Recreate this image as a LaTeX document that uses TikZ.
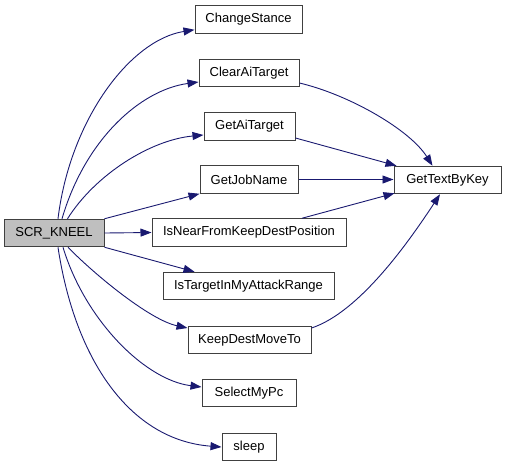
\documentclass[tikz,border=0pt]{standalone}
\usepackage{fontspec}
\setmainfont{Liberation Sans}
\usetikzlibrary{arrows.meta,calc}
\definecolor{edgeblue}{HTML}{191970}
\definecolor{boxborder}{HTML}{404040}
\definecolor{rootfill}{HTML}{BFBFBF}
\tikzset{
  fnbox/.style={draw=boxborder, line width=1pt, rectangle, inner sep=0pt,
    minimum height=27.5pt, fill=white, font=\fontsize{13}{15}\selectfont},
  rootbox/.style={fnbox, fill=rootfill},
  callarrow/.style={draw=edgeblue, line width=0.9pt,
    -{Triangle[length=11pt,width=8pt]}, fill=none},
}
\begin{document}
\begin{tikzpicture}[x=1pt,y=-1pt]
\useasboundingbox (0,0) rectangle (507,467);
% nodes
\node[rootbox, minimum width=100pt] (k)   at (54,233)     {SCR\_KNEEL};
\node[fnbox, minimum width=107pt]   (cs)  at (248.5,19.5) {ChangeStance};
\node[fnbox, minimum width=100pt]   (cat) at (249,73)     {ClearAiTarget};
\node[fnbox, minimum width=91pt]    (gat) at (249.5,126.5){GetAiTarget};
\node[fnbox, minimum width=98pt]    (gjn) at (249,179.5)  {GetJobName};
\node[fnbox, minimum width=194pt]   (inf) at (249,232.5)  {IsNearFromKeepDestPosition};
\node[fnbox, minimum width=171pt]   (itr) at (248.5,286)  {IsTargetInMyAttackRange};
\node[fnbox, minimum width=123pt]   (kdm) at (249.5,340)  {KeepDestMoveTo};
\node[fnbox, minimum width=94pt]    (smp) at (249,393)    {SelectMyPc};
\node[fnbox, minimum width=54pt]    (sl)  at (249,447)    {sleep};
\node[fnbox, minimum width=107pt]   (g)   at (447.5,180)  {GetTextByKey};
% edges from SCR_KNEEL
\draw[callarrow] ($(k.north)+(4,0)$) .. controls (70,120) and (130,40) .. ($(cs.south west)+(0,-4)$);
\draw[callarrow] ($(k.north)+(8,0)$) .. controls (85,140) and (140,90) .. ($(cat.west)+(0,9)$);
\draw[callarrow] ($(k.north)+(13.5,0)$) .. controls (95,175) and (150,140) .. ($(gat.west)+(0,8.5)$);
\draw[callarrow] (k.north east) -- (gjn.south west);
\draw[callarrow] (k.east) -- (inf.west);
\draw[callarrow] (k.south east) -- ($(itr.north west)+(32,0)$);
\draw[callarrow] ($(k.south)+(14,0)$) .. controls (95,275) and (150,320) .. ($(kdm.west)+(0,-12)$);
\draw[callarrow] ($(k.south)+(9,0)$) .. controls (85,320) and (145,380) .. ($(smp.west)+(0,-6)$);
\draw[callarrow] ($(k.south)+(4,0)$) .. controls (75,360) and (130,440) .. (sl.west);
% edges to GetTextByKey
\draw[callarrow] ($(cat.east)+(0,10)$) .. controls (350,95) and (410,130) .. ($(g.north west)+(39,0)$);
\draw[callarrow] ($(gat.east)+(0,11.5)$) -- ($(g.north west)+(3,0)$);
\draw[callarrow] (gjn.east) -- (gjn.east -| g.west);
\draw[callarrow] ($(inf.north)+(53,0)$) -- ($(g.south west)+(1,-1)$);
\draw[callarrow] ($(kdm.east)+(0,-12)$) .. controls (360,312) and (410,240) .. ($(g.south)+(-7.5,0)$);
\end{tikzpicture}
\end{document}
